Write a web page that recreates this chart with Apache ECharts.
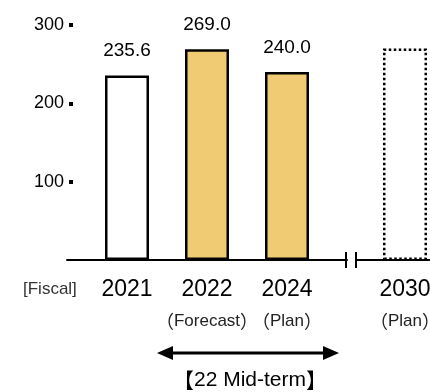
<!DOCTYPE html>
<html>
<head>
<meta charset="utf-8">
<style>
html,body{margin:0;padding:0;background:#fff;}
#main{width:430px;height:392px;}
</style>
<script src="https://cdn.jsdelivr.net/npm/echarts@6/dist/echarts.min.js"></script>
</head>
<body>
<div id="main"></div>
<script>
// fiscal years and their values
var categories = ['2021', '2022', '2024', '2030'];
var subLabels = ['', 'Forecast', 'Plan', 'Plan'];
var values = [235.6, 269.0, 240.0, 270];
var kinds = ['actual', 'forecast', 'plan', 'target'];
var showValue = [true, true, true, false];
var yTicks = [100, 200, 300];

var FONT = '"Liberation Sans", Arial, sans-serif';
var CJK = '"Noto Sans CJK JP", sans-serif';
var GOLD = '#F0CB74';

function styleFor(kind) {
    if (kind == 'actual') return {color: '#fff', borderColor: '#000', borderWidth: 2.5};
    if (kind == 'target') return {color: '#fff', borderColor: '#000', borderWidth: 2.5, borderType: 'dotted'};
    return {color: GOLD, borderColor: '#000', borderWidth: 2.5};
}

// left part: 2021..2024 with blank half-slots between, right part: 2030 after the break
var leftCats = [''];
for (var i = 0; i < 3; i++) { leftCats.push(categories[i]); leftCats.push(''); }
var rightCats = [categories[3]];

function makeData(cats) {
    return cats.map(function (c) {
        var k = categories.indexOf(c);
        if (!c || k < 0) return '-';
        return {value: values[k], itemStyle: styleFor(kinds[k]),
                label: {show: showValue[k]}};
    });
}

function yearLabel(v) {
    var k = categories.indexOf(v);
    if (!v || k < 0) return '';
    if (!subLabels[k]) return '{y|' + v + '}';
    return '{y|' + v + '}\n{p|（}{s|' + subLabels[k] + '}{p|）}';
}

var xLabel = {
    interval: 0, margin: 15, formatter: yearLabel,
    rich: {
        y: {fontSize: 23, lineHeight: 30, fontFamily: FONT, color: '#000'},
        s: {fontSize: 17, lineHeight: 33, fontFamily: FONT, color: '#222'},
        p: {fontSize: 18, lineHeight: 33, fontFamily: CJK, color: '#222'}
    }
};

var valueLabel = {
    position: 'top', distance: 15, fontSize: 19, fontFamily: FONT, color: '#000',
    formatter: function (p) { return p.value.toFixed(1); }
};

var myChart = echarts.init(document.getElementById('main'));
myChart.setOption({
    animation: false,
    backgroundColor: '#fff',
    grid: [
        {left: 67, width: 280, top: 25, bottom: 132},
        {left: 356, width: 98, top: 25, bottom: 132, outerBoundsMode: 'none'}
    ],
    xAxis: [
        {type: 'category', gridIndex: 0, data: leftCats,
         axisLine: {lineStyle: {color: '#000', width: 2}}, axisTick: {show: false}, axisLabel: xLabel},
        {type: 'category', gridIndex: 1, data: rightCats,
         axisLine: {lineStyle: {color: '#000', width: 2}}, axisTick: {show: false}, axisLabel: xLabel}
    ],
    yAxis: [
        {type: 'value', gridIndex: 0, min: 0, max: 300, interval: 100, offset: -6,
         axisLine: {show: false}, splitLine: {show: false},
         axisTick: {show: true, length: 4, customValues: yTicks, lineStyle: {color: '#000', width: 4}},
         axisLabel: {customValues: yTicks, margin: 9, fontSize: 18, fontFamily: FONT, color: '#000'}},
        {type: 'value', gridIndex: 1, min: 0, max: 300, interval: 100, show: false}
    ],
    series: [
        {type: 'bar', xAxisIndex: 0, yAxisIndex: 0, barWidth: 44, data: makeData(leftCats), label: valueLabel},
        {type: 'bar', xAxisIndex: 1, yAxisIndex: 1, barWidth: 44, data: makeData(rightCats), label: valueLabel}
    ],
    graphic: [
        // axis break
        {type: 'line', shape: {x1: 346, y1: 252, x2: 346, y2: 268}, style: {stroke: '#000', lineWidth: 2}},
        {type: 'line', shape: {x1: 356, y1: 252, x2: 356, y2: 268}, style: {stroke: '#000', lineWidth: 2}},
        {type: 'text', left: 23, top: 281, style: {text: '[Fiscal]', fontSize: 17, fontFamily: FONT, fill: '#333'}},
        // mid-term span arrow
        {type: 'line', shape: {x1: 168, y1: 353, x2: 328, y2: 353}, style: {stroke: '#000', lineWidth: 3}},
        {type: 'polygon', shape: {points: [[157, 353], [173, 346], [173, 360]]}, style: {fill: '#000'}},
        {type: 'polygon', shape: {points: [[339, 353], [323, 346], [323, 360]]}, style: {fill: '#000'}},
        {type: 'text', x: 250, y: 380, style: {
            text: '{b|【}{t|22 Mid-term}{b|】}', align: 'center', verticalAlign: 'middle',
            rich: {b: {fontSize: 21, fontFamily: CJK, fill: '#000'},
                   t: {fontSize: 21, fontFamily: FONT, fill: '#000'}}}}
    ]
});
</script>
</body>
</html>
